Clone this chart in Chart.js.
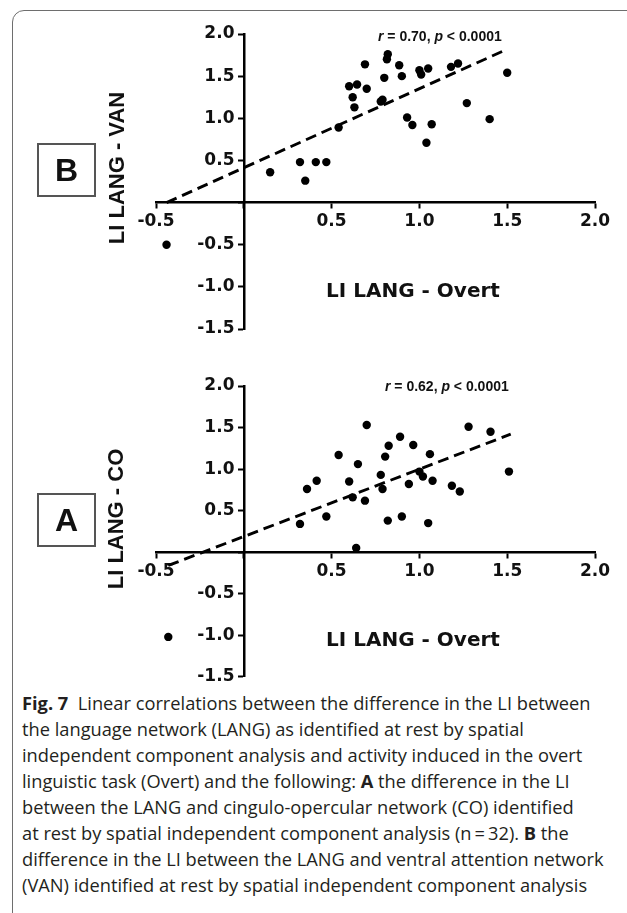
<!DOCTYPE html>
<html><head><meta charset="utf-8">
<script src="https://cdn.jsdelivr.net/npm/chart.js@4.4.0/dist/chart.umd.min.js"></script>
<style>
html,body{margin:0;padding:0;background:#fff;width:627px;height:913px;overflow:hidden;position:relative;}
#frame{position:absolute;left:12px;top:10px;width:680px;height:950px;border:1.5px solid #6e6e6e;border-radius:12px;box-sizing:border-box;}
.panel{position:absolute;left:37px;width:59px;height:54px;border:2px solid #555;box-sizing:border-box;font:bold 32px "Liberation Sans",Arial,sans-serif;display:flex;align-items:center;justify-content:center;color:#111;}
canvas{position:absolute;left:0;}
#cap{position:absolute;left:22px;top:690px;font-family:"Open Sans",sans-serif;color:#231f20;white-space:nowrap;line-height:26px;font-size:17px;}
#cap div{white-space:nowrap;}
#cap span{display:inline-block;}
</style></head><body>
<div id="frame"></div>
<canvas id="c1" width="627" height="345" style="top:0;width:627px;height:345px"></canvas>
<canvas id="c2" width="627" height="345" style="top:345px;width:627px;height:345px"></canvas>
<div class="panel" style="top:143px">B</div>
<div class="panel" style="top:493px">A</div>
<div id="cap">
<div><b>Fig. 7</b>&nbsp; Linear correlations between the difference in the LI between</div>
<div>the language network (LANG) as identified at rest by spatial</div>
<div>independent component analysis and activity induced in the overt</div>
<div>linguistic task (Overt) and the following: <b>A</b> the difference in the LI</div>
<div>between the LANG and cingulo-opercular network (CO) identified</div>
<div>at rest by spatial independent component analysis (n&#8201;=&#8201;32). <b>B</b> the</div>
<div><span id="fitline">difference in the LI between the LANG and ventral attention network</span></div>
<div>(VAN) identified at rest by spatial independent component analysis</div>
</div>
<script>
// ---- data ----
const xTicks = [-0.5, 0, 0.5, 1.0, 1.5, 2.0];
const yTicks = [-1.5, -1.0, -0.5, 0, 0.5, 1.0, 1.5, 2.0];

// Panel B: LI LANG - Overt vs LI LANG - VAN
const vanOvert = [-0.44, 0.15, 0.32, 0.35, 0.41, 0.47, 0.54, 0.60, 0.645, 0.62, 0.63, 0.69, 0.70, 0.79, 0.78, 0.80, 0.82, 0.815, 0.885, 0.90, 0.93, 0.96, 1.00, 1.01, 1.05, 1.04, 1.07, 1.18, 1.22, 1.27, 1.40, 1.50];
const vanValues = [-0.50, 0.36, 0.48, 0.26, 0.48, 0.48, 0.89, 1.38, 1.40, 1.25, 1.13, 1.64, 1.35, 1.22, 1.20, 1.48, 1.76, 1.70, 1.63, 1.50, 1.01, 0.92, 1.57, 1.52, 1.59, 0.71, 0.93, 1.61, 1.65, 1.18, 0.99, 1.54];
const vanFitX = [-0.44, 1.50];
const vanFitY = [0.00, 1.82];
const vanStats = ['r', ' = 0.70, ', 'p', ' < 0.0001'];

// Panel A: LI LANG - Overt vs LI LANG - CO
const coOvert = [-0.43, 0.32, 0.36, 0.415, 0.47, 0.54, 0.60, 0.62, 0.64, 0.65, 0.69, 0.70, 0.78, 0.79, 0.805, 0.82, 0.825, 0.89, 0.90, 0.94, 0.965, 1.00, 1.02, 1.05, 1.06, 1.075, 1.185, 1.23, 1.28, 1.405, 1.51];
const coValues = [-1.02, 0.34, 0.76, 0.86, 0.43, 1.17, 0.85, 0.66, 0.05, 1.06, 0.62, 1.53, 0.93, 0.76, 1.15, 0.38, 1.28, 1.39, 0.43, 0.82, 1.29, 0.97, 0.91, 0.35, 1.18, 0.86, 0.80, 0.73, 1.51, 1.45, 0.97];
const coFitX = [-0.43, 1.52];
const coFitY = [-0.16, 1.42];
const coStats = ['r', ' = 0.62, ', 'p', ' < 0.0001'];

// ---- caption fit ----
(function(){
  const cap = document.getElementById('cap');
  const fl = document.getElementById('fitline');
  const w = fl.getBoundingClientRect().width;
  cap.style.fontSize = (17 * 582 / w) + 'px';
})();

const tickFont = {family: '"DejaVu Sans", sans-serif', weight: 'bold', size: 17};

const annot = {
  id: 'annot',
  afterDraw(chart, args, o) {
    const ctx = chart.ctx;
    ctx.save();
    ctx.fillStyle = '#111';
    // x title
    ctx.font = 'bold 20px "DejaVu Sans", sans-serif';
    ctx.textAlign = 'center'; ctx.textBaseline = 'middle';
    ctx.fillText(o.xTitle, o.xTitleAt[0], o.xTitleAt[1]);
    // y title
    ctx.save();
    ctx.translate(o.yTitleAt[0], o.yTitleAt[1]);
    ctx.rotate(-Math.PI / 2);
    ctx.font = 'bold 22px "Liberation Sans", Arial, sans-serif';
    ctx.fillText(o.yTitle, 0, 0);
    ctx.restore();
    // stats
    let x = o.statsAt[0];
    ctx.textAlign = 'left';
    o.stats.forEach((s, i) => {
      ctx.font = (i % 2 === 0 ? 'italic ' : '') + 'bold 14px "Liberation Sans", Arial, sans-serif';
      ctx.fillText(s, x, o.statsAt[1]);
      x += ctx.measureText(s).width;
    });
    ctx.restore();
  }
};

function makeChart(id, xs, ys, fx, fy, opts) {
  const pts = xs.map((v, i) => ({x: v, y: ys[i]}));
  const fit = fx.map((v, i) => ({x: v, y: fy[i]}));
  return new Chart(document.getElementById(id), {
    type: 'scatter',
    data: {datasets: [
      {data: pts, pointRadius: 4.2, pointHoverRadius: 4.2, backgroundColor: '#000', borderWidth: 0, order: 1},
      {data: fit, showLine: true, pointRadius: 0, borderColor: '#000', borderWidth: 2.9, borderDash: [11, 6], order: 2}
    ]},
    options: {
      responsive: false, animation: false, devicePixelRatio: 1,
      layout: {padding: opts.pad},
      plugins: {legend: {display: false}, tooltip: {enabled: false}, annot: opts.annot},
      scales: {
        x: {
          type: 'linear', min: -0.5, max: 2.0, position: {y: 0},
          afterBuildTicks: s => { s.ticks = xTicks.map(v => ({value: v})); },
          ticks: {font: tickFont, color: '#111', padding: 4, callback: v => v === 0 ? '' : v.toFixed(1), maxRotation: 0},
          grid: {drawOnChartArea: false, drawTicks: true, tickLength: 5, tickWidth: 2, tickColor: '#000', color: '#000'},
          border: {display: true, color: '#000', width: 2.5}
        },
        y: {
          type: 'linear', min: -1.5, max: 2.0, position: {x: 0},
          afterBuildTicks: s => { s.ticks = yTicks.map(v => ({value: v})); },
          ticks: {font: tickFont, color: '#111', callback: v => v === 0 ? '' : v.toFixed(1) + ' \u2009'},
          grid: {drawOnChartArea: false, drawTicks: true, tickLength: 5, tickWidth: 2, tickColor: '#000', color: '#000'},
          border: {display: true, color: '#000', width: 2.5}
        }
      }
    },
    plugins: [annot]
  });
}

makeChart('c1', vanOvert, vanValues, vanFitX, vanFitY, {
  pad: {left: 156, right: 32, top: 34, bottom: 16},
  annot: {xTitle: 'LI LANG - Overt', xTitleAt: [413, 292], yTitle: 'LI LANG - VAN', yTitleAt: [118, 168], stats: vanStats, statsAt: [378, 37]}
});
makeChart('c2', coOvert, coValues, coFitX, coFitY, {
  pad: {left: 156, right: 32, top: 41, bottom: 10},
  annot: {xTitle: 'LI LANG - Overt', xTitleAt: [413, 296], yTitle: 'LI LANG - CO', yTitleAt: [117, 174], stats: coStats, statsAt: [385, 42]}
});
</script>
</body></html>
